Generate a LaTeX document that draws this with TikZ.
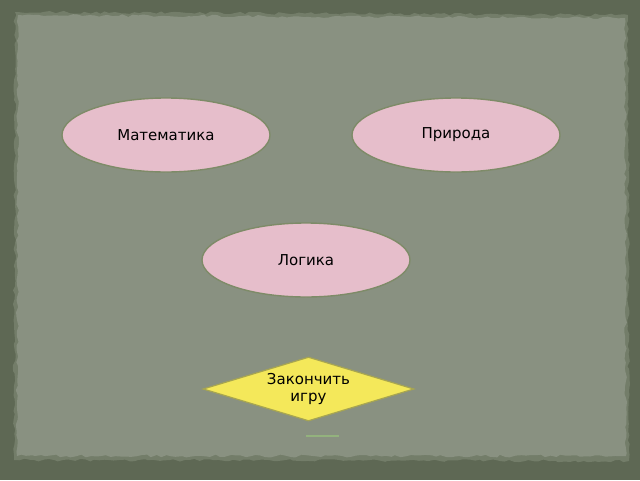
\documentclass[tikz,border=0pt]{standalone}
\usepackage{fontspec}
\setmainfont{DejaVu Sans}
\usepackage{xcolor}
\usetikzlibrary{positioning}
\usetikzlibrary{decorations.pathmorphing}
\usetikzlibrary{shapes.geometric}
\definecolor{frame}{HTML}{5E6854}
\definecolor{rim}{HTML}{737D69}
\definecolor{paper}{HTML}{899181}
\definecolor{rose}{HTML}{E6BECB}
\definecolor{roseline}{HTML}{7E8B68}
\definecolor{lemon}{HTML}{F4E85A}
\definecolor{lemonline}{HTML}{A7A551}
\definecolor{sprout}{HTML}{93B27D}
\tikzstyle{topic} = [ellipse, minimum width=208pt, minimum height=74pt, inner sep=0pt, draw=roseline, line width=1.4pt, fill=rose, font=\fontsize{15}{17}\selectfont]
\tikzstyle{quitbox} = [diamond, minimum width=211pt, minimum height=64pt, inner sep=0pt, aspect=3.3, draw=lemonline, line width=1.2pt, fill=lemon, align=center, font=\fontsize{15}{17}\selectfont]
\tikzstyle{torn} = [decorate, decoration={random steps, segment length=5pt, amplitude=1.4pt}]

\begin{document}
\begin{tikzpicture}[x=1pt,y=-1pt]
      \useasboundingbox (0,0) rectangle (640,480);
      \fill[frame] (0,0) rectangle (640,480);
      %%%%%%%%%%%%%%%%%%%%%%%%%%%%%%%%%%%%%%%
      \fill[rim, torn] (15,12) -- (628,15) -- (629,461) -- (14,460) -- cycle;
      \fill[paper, torn] (18,15) -- (625,18) -- (626,456) -- (17,456) -- cycle;
      %\draw (166,135) circle (2);
      \draw (166,135) node (math) [topic] {Математика};
      \draw (456,135) node (nature) [topic] {Природа};
      \draw (306,260) node (logic) [topic] {Логика};
      \draw (308.5,389) node (quit) [quitbox] {Закончить\\игру};
      \draw[sprout, line width=1.5pt] (306,436)--(339,436);
      \end{tikzpicture}
\end{document}
